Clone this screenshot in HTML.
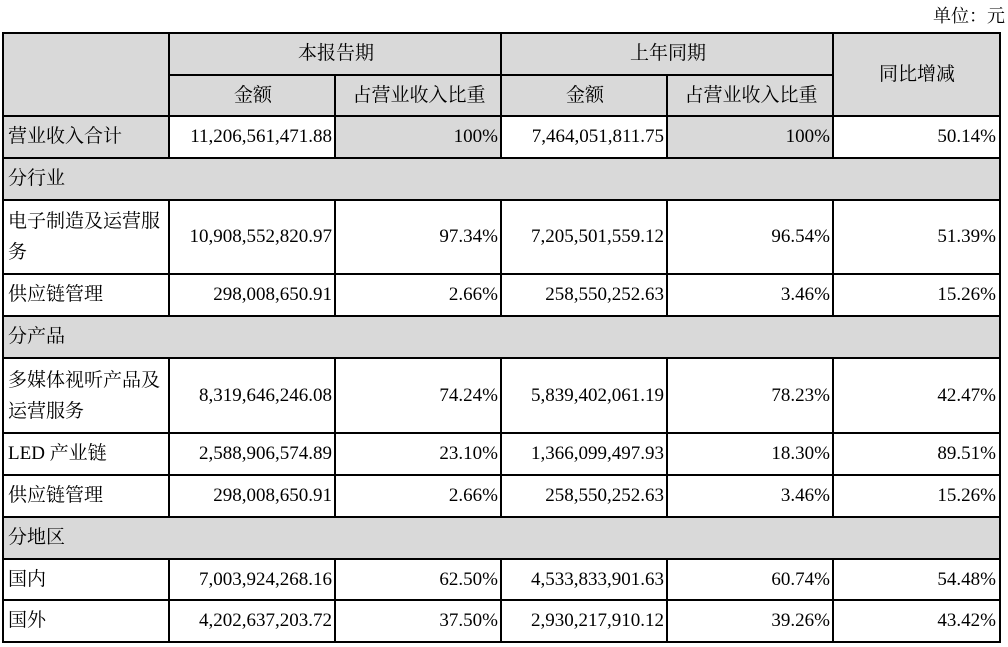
<!DOCTYPE html>
<html><head><meta charset="utf-8"><style>
body{margin:0;width:1008px;height:647px;background:#fff;position:relative;overflow:hidden;font-family:"Liberation Serif","Noto Serif CJK SC",serif;font-size:19px;color:#000}
.c{position:absolute;box-sizing:border-box;display:flex;align-items:center;padding:0 3px 0 5px;line-height:30px}
.g{background:#d9d9d9}
.r{justify-content:flex-end}
.m{justify-content:center}
.h{position:absolute;background:#000;height:2px}
.v{position:absolute;background:#000;width:2px}
</style></head><body>
<div style="position:absolute;right:3px;top:2px;font-size:18px">单位：元</div>

<div class="c g" style="left:3px;top:33px;width:996px;height:83px"></div>
<div class="c m" style="left:169px;top:33px;width:332px;height:42px">本报告期</div>
<div class="c m" style="left:501px;top:33px;width:332px;height:42px">上年同期</div>
<div class="c m" style="left:833px;top:33px;width:166px;height:83px">同比增减</div>
<div class="c m" style="left:169px;top:75px;width:166px;height:41px">金额</div>
<div class="c m" style="left:335px;top:75px;width:166px;height:41px">占营业收入比重</div>
<div class="c m" style="left:501px;top:75px;width:166px;height:41px">金额</div>
<div class="c m" style="left:667px;top:75px;width:166px;height:41px">占营业收入比重</div>

<div class="c g" style="left:3px;top:116px;width:166px;height:42px">营业收入合计</div>
<div class="c r" style="left:169px;top:116px;width:166px;height:42px">11,206,561,471.88</div>
<div class="c g r" style="left:335px;top:116px;width:166px;height:42px">100%</div>
<div class="c r" style="left:501px;top:116px;width:166px;height:42px">7,464,051,811.75</div>
<div class="c g r" style="left:667px;top:116px;width:166px;height:42px">100%</div>
<div class="c r" style="left:833px;top:116px;width:166px;height:42px">50.14%</div>

<div class="c g" style="left:3px;top:158px;width:996px;height:42px">分行业</div>

<div class="c" style="left:3px;top:200px;width:166px;height:74px;line-height:31px">电子制造及运营服务</div>
<div class="c r" style="left:169px;top:200px;width:166px;height:74px">10,908,552,820.97</div>
<div class="c r" style="left:335px;top:200px;width:166px;height:74px">97.34%</div>
<div class="c r" style="left:501px;top:200px;width:166px;height:74px">7,205,501,559.12</div>
<div class="c r" style="left:667px;top:200px;width:166px;height:74px">96.54%</div>
<div class="c r" style="left:833px;top:200px;width:166px;height:74px">51.39%</div>

<div class="c" style="left:3px;top:274px;width:166px;height:42px">供应链管理</div>
<div class="c r" style="left:169px;top:274px;width:166px;height:42px">298,008,650.91</div>
<div class="c r" style="left:335px;top:274px;width:166px;height:42px">2.66%</div>
<div class="c r" style="left:501px;top:274px;width:166px;height:42px">258,550,252.63</div>
<div class="c r" style="left:667px;top:274px;width:166px;height:42px">3.46%</div>
<div class="c r" style="left:833px;top:274px;width:166px;height:42px">15.26%</div>

<div class="c g" style="left:3px;top:316px;width:996px;height:42px">分产品</div>

<div class="c" style="left:3px;top:358px;width:166px;height:75px;line-height:31px">多媒体视听产品及运营服务</div>
<div class="c r" style="left:169px;top:358px;width:166px;height:75px">8,319,646,246.08</div>
<div class="c r" style="left:335px;top:358px;width:166px;height:75px">74.24%</div>
<div class="c r" style="left:501px;top:358px;width:166px;height:75px">5,839,402,061.19</div>
<div class="c r" style="left:667px;top:358px;width:166px;height:75px">78.23%</div>
<div class="c r" style="left:833px;top:358px;width:166px;height:75px">42.47%</div>

<div class="c" style="left:3px;top:433px;width:166px;height:42px">LED 产业链</div>
<div class="c r" style="left:169px;top:433px;width:166px;height:42px">2,588,906,574.89</div>
<div class="c r" style="left:335px;top:433px;width:166px;height:42px">23.10%</div>
<div class="c r" style="left:501px;top:433px;width:166px;height:42px">1,366,099,497.93</div>
<div class="c r" style="left:667px;top:433px;width:166px;height:42px">18.30%</div>
<div class="c r" style="left:833px;top:433px;width:166px;height:42px">89.51%</div>

<div class="c" style="left:3px;top:475px;width:166px;height:42px">供应链管理</div>
<div class="c r" style="left:169px;top:475px;width:166px;height:42px">298,008,650.91</div>
<div class="c r" style="left:335px;top:475px;width:166px;height:42px">2.66%</div>
<div class="c r" style="left:501px;top:475px;width:166px;height:42px">258,550,252.63</div>
<div class="c r" style="left:667px;top:475px;width:166px;height:42px">3.46%</div>
<div class="c r" style="left:833px;top:475px;width:166px;height:42px">15.26%</div>

<div class="c g" style="left:3px;top:517px;width:996px;height:42px">分地区</div>

<div class="c" style="left:3px;top:559px;width:166px;height:41px">国内</div>
<div class="c r" style="left:169px;top:559px;width:166px;height:41px">7,003,924,268.16</div>
<div class="c r" style="left:335px;top:559px;width:166px;height:41px">62.50%</div>
<div class="c r" style="left:501px;top:559px;width:166px;height:41px">4,533,833,901.63</div>
<div class="c r" style="left:667px;top:559px;width:166px;height:41px">60.74%</div>
<div class="c r" style="left:833px;top:559px;width:166px;height:41px">54.48%</div>

<div class="c" style="left:3px;top:600px;width:166px;height:42px">国外</div>
<div class="c r" style="left:169px;top:600px;width:166px;height:42px">4,202,637,203.72</div>
<div class="c r" style="left:335px;top:600px;width:166px;height:42px">37.50%</div>
<div class="c r" style="left:501px;top:600px;width:166px;height:42px">2,930,217,910.12</div>
<div class="c r" style="left:667px;top:600px;width:166px;height:42px">39.26%</div>
<div class="c r" style="left:833px;top:600px;width:166px;height:42px">43.42%</div>

<div class="h" style="left:2px;top:32px;width:999px"></div>
<div class="h" style="left:168px;top:74px;width:666px"></div>
<div class="h" style="left:2px;top:115px;width:999px"></div>
<div class="h" style="left:2px;top:157px;width:999px"></div>
<div class="h" style="left:2px;top:199px;width:999px"></div>
<div class="h" style="left:2px;top:273px;width:999px"></div>
<div class="h" style="left:2px;top:315px;width:999px"></div>
<div class="h" style="left:2px;top:357px;width:999px"></div>
<div class="h" style="left:2px;top:432px;width:999px"></div>
<div class="h" style="left:2px;top:474px;width:999px"></div>
<div class="h" style="left:2px;top:516px;width:999px"></div>
<div class="h" style="left:2px;top:558px;width:999px"></div>
<div class="h" style="left:2px;top:599px;width:999px"></div>
<div class="h" style="left:2px;top:641px;width:999px"></div>

<div class="v" style="left:2px;top:32px;height:611px"></div>
<div class="v" style="left:999px;top:32px;height:611px"></div>
<div class="v" style="left:168px;top:32px;height:126px"></div>
<div class="v" style="left:500px;top:32px;height:126px"></div>
<div class="v" style="left:832px;top:32px;height:126px"></div>
<div class="v" style="left:334px;top:74px;height:84px"></div>
<div class="v" style="left:666px;top:74px;height:84px"></div>
<div class="v" style="left:168px;top:199px;height:118px"></div>
<div class="v" style="left:334px;top:199px;height:118px"></div>
<div class="v" style="left:500px;top:199px;height:118px"></div>
<div class="v" style="left:666px;top:199px;height:118px"></div>
<div class="v" style="left:832px;top:199px;height:118px"></div>
<div class="v" style="left:168px;top:357px;height:161px"></div>
<div class="v" style="left:334px;top:357px;height:161px"></div>
<div class="v" style="left:500px;top:357px;height:161px"></div>
<div class="v" style="left:666px;top:357px;height:161px"></div>
<div class="v" style="left:832px;top:357px;height:161px"></div>
<div class="v" style="left:168px;top:558px;height:85px"></div>
<div class="v" style="left:334px;top:558px;height:85px"></div>
<div class="v" style="left:500px;top:558px;height:85px"></div>
<div class="v" style="left:666px;top:558px;height:85px"></div>
<div class="v" style="left:832px;top:558px;height:85px"></div>
</body></html>
